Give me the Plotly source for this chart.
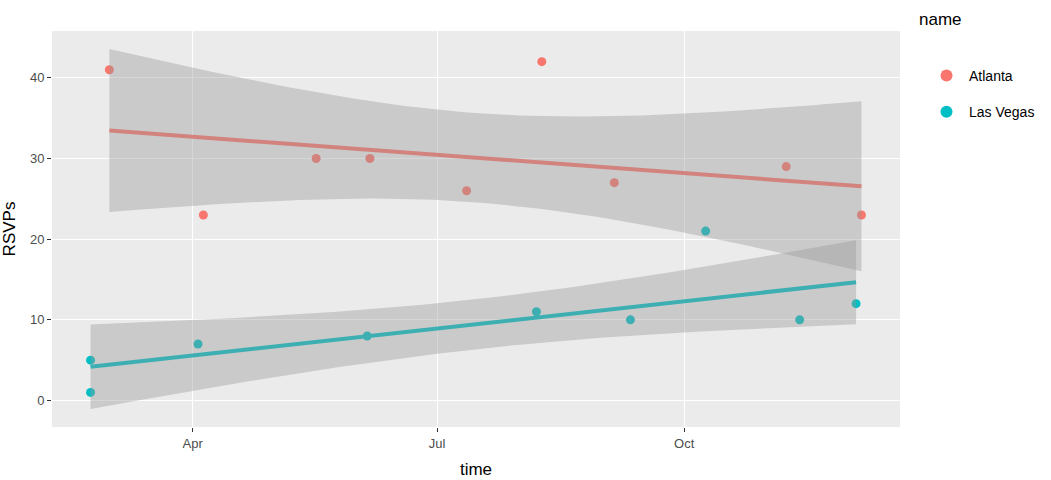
import numpy as np
import plotly.graph_objects as go

# ---- data ----
groups = ["Atlanta", "Las Vegas"]
atl_dates = ["2017-03-01", "2017-04-05", "2017-05-17", "2017-06-06", "2017-07-12",
             "2017-08-09", "2017-09-05", "2017-11-08", "2017-12-06"]
atl_rsvps = [41, 23, 30, 30, 26, 42, 27, 29, 23]
lv_dates = ["2017-02-22", "2017-02-22", "2017-04-03", "2017-06-05", "2017-08-07",
            "2017-09-11", "2017-10-09", "2017-11-13", "2017-12-04"]
lv_rsvps = [5, 1, 7, 8, 11, 10, 21, 10, 12]
x_tick_vals = ["2017-04-01", "2017-07-01", "2017-10-01"]
x_tick_text = ["Apr", "Jul", "Oct"]
y_tick_vals = [0, 10, 20, 30, 40]

point_colors = ["#F8766D", "#00BFC4"]
T975_DF7 = 2.3646242510

data = [(atl_dates, atl_rsvps), (lv_dates, lv_rsvps)]

fig = go.Figure()
ribbons = []
all_x = []
all_y = []
for i, (dates, vals) in enumerate(data):
    d = np.array(dates, dtype="datetime64[D]")
    x = (d - np.datetime64("2017-01-01")).astype(float)
    y = np.array(vals, dtype=float)
    n = len(x)
    b, a = np.polyfit(x, y, 1)
    resid = y - (a + b * x)
    s = np.sqrt(np.sum(resid ** 2) / (n - 2))
    sxx = np.sum((x - x.mean()) ** 2)
    xs = np.linspace(x.min(), x.max(), 80)
    fit = a + b * xs
    se = s * np.sqrt(1.0 / n + (xs - x.mean()) ** 2 / sxx)
    lo = fit - T975_DF7 * se
    hi = fit + T975_DF7 * se
    xd = np.datetime64("2017-01-01") + (xs * 86400).astype("timedelta64[s]")
    xd_str = [str(v) for v in xd]
    ribbons.append((xd_str, lo, hi, fit))
    all_x.extend(list(x))
    all_y.extend(list(y) + list(lo) + list(hi))
    fig.add_trace(go.Scatter(x=dates, y=vals, mode="markers", name=groups[i],
                             legendgroup=groups[i],
                             marker=dict(color=point_colors[i], size=9)))

for i, (xd_str, lo, hi, fit) in enumerate(ribbons):
    fig.add_trace(go.Scatter(x=xd_str, y=fit, mode="lines", showlegend=False,
                             line=dict(color=point_colors[i], width=4), hoverinfo="skip"))

for i, (xd_str, lo, hi, fit) in enumerate(ribbons):
    fig.add_trace(go.Scatter(x=xd_str + xd_str[::-1], y=list(hi) + list(lo[::-1]),
                             mode="lines", fill="toself", showlegend=False,
                             line=dict(width=0, color="rgba(0,0,0,0)"),
                             fillcolor="rgba(153,153,153,0.4)", hoverinfo="skip"))

xmin, xmax = min(all_x), max(all_x)
span = xmax - xmin
x0 = np.datetime64("2017-01-01") + np.timedelta64(int((xmin - 0.05 * span) * 86400), "s")
x1 = np.datetime64("2017-01-01") + np.timedelta64(int((xmax + 0.05 * span) * 86400), "s")
ymin, ymax = min(all_y), max(all_y)
yspan = ymax - ymin

font = "Liberation Sans, Arial, sans-serif"
fig.update_layout(
    width=1051, height=480,
    margin=dict(l=52, r=150, t=31, b=53),
    paper_bgcolor="white", plot_bgcolor="#EBEBEB",
    font=dict(family=font, color="#000000"),
    xaxis=dict(range=[str(x0), str(x1)], tickvals=x_tick_vals, ticktext=x_tick_text,
               showgrid=True, gridcolor="white", gridwidth=1.2, zeroline=False,
               ticks="outside", ticklen=4, tickcolor="#333333", tickwidth=1,
               tickfont=dict(size=13, color="#4D4D4D"), automargin=False,
               title=dict(text="time", font=dict(size=17), standoff=13), showline=False),
    yaxis=dict(range=[ymin - 0.05 * yspan, ymax + 0.05 * yspan], tickvals=y_tick_vals,
               showgrid=True, gridcolor="white", gridwidth=1.2, zeroline=False,
               ticks="outside", ticklen=4, tickcolor="#333333", tickwidth=1,
               tickfont=dict(size=13, color="#4D4D4D"), automargin=False,
               title=dict(text="RSVPs", font=dict(size=17), standoff=10), showline=False),
    legend=dict(x=1.0271, y=0.927, xanchor="left", yanchor="top",
                font=dict(size=14), tracegroupgap=15, bgcolor="rgba(0,0,0,0)",
                itemwidth=35, itemsizing="constant"),
    annotations=[dict(text="name", xref="paper", yref="paper", x=1.0205, y=1.0,
                      xanchor="left", yanchor="bottom", yshift=0, showarrow=False,
                      font=dict(size=17, color="#000000"))],
)

fig.write_html("out.html")
